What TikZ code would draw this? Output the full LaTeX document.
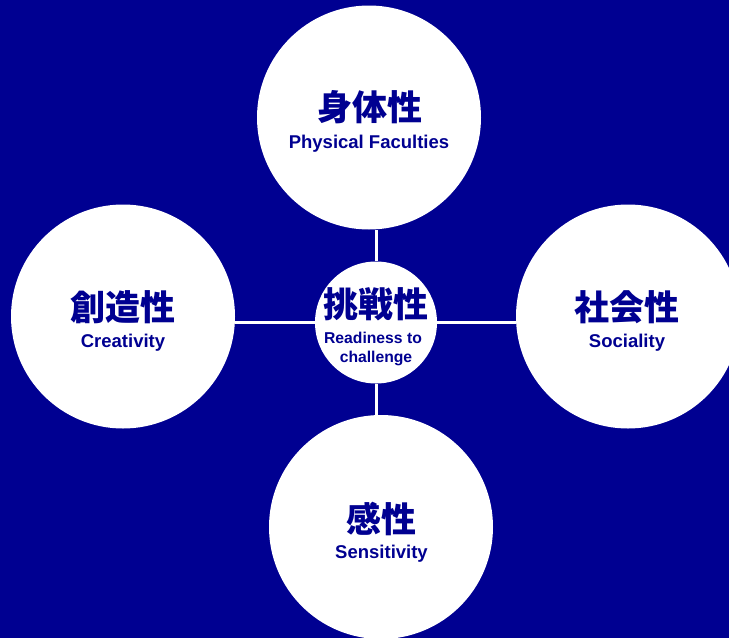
\documentclass[tikz,border=0pt]{standalone}
\usepackage{fontspec}
\setmainfont{Liberation Sans}
\newfontfamily\cjkfont{Noto Sans CJK JP}
\definecolor{navy}{RGB}{0,0,145}
\begin{document}
\begin{tikzpicture}[x=1pt,y=-1pt,
  bigc/.style={circle,fill=white,minimum size=224pt,inner sep=0pt},
  ctrc/.style={circle,fill=white,minimum size=122pt,inner sep=0pt},
  link/.style={draw=white,line width=3pt},
  cj/.style={font=\cjkfont\bfseries\fontsize{35}{40}\selectfont,text=navy,inner sep=0pt,anchor=base},
  en/.style={font=\bfseries\fontsize{18.5}{22}\selectfont,text=navy,inner sep=0pt,anchor=base},
  ens/.style={font=\bfseries\fontsize{15.7}{19}\selectfont,text=navy,inner sep=0pt,anchor=base}]
\fill[navy] (0,0) rectangle (729,638);
\useasboundingbox (0,0) rectangle (729,638);
\clip (0,0) rectangle (729,638);
\node[ctrc] (ctr) at (376,322.5) {};
\node[bigc] (top) at (369,117.5) {};
\node[bigc] (lft) at (123,316.5) {};
\node[bigc] (rgt) at (628,316.5) {};
\node[bigc] (bot) at (381,527) {};
\draw[link] (ctr.north) -- (ctr.north |- top.south);
\draw[link] (ctr.south) -- (ctr.south |- bot.north);
\draw[link] (ctr.west) -- (ctr.west -| lft.east);
\draw[link] (ctr.east) -- (ctr.east -| rgt.west);
% texts
\node[cj] (tj) at (370,120) {身体性};
\node[en] (te) at (369,148) {Physical Faculties};
\node[cj] (cj) at (375.5,317) {挑戦性};
\node[ens] (ce1) at (373,343) {Readiness to};
\node[ens] (ce2) at (376,362) {challenge};
\node[cj] (lj) at (123,320) {創造性};
\node[en] (le) at (123,347) {Creativity};
\node[cj] (rj) at (627,320) {社会性};
\node[en] (re) at (627,347) {Sociality};
\node[cj] (bj) at (381.5,532) {感性};
\node[en] (be) at (381.5,558) {Sensitivity};
\end{tikzpicture}
\end{document}
